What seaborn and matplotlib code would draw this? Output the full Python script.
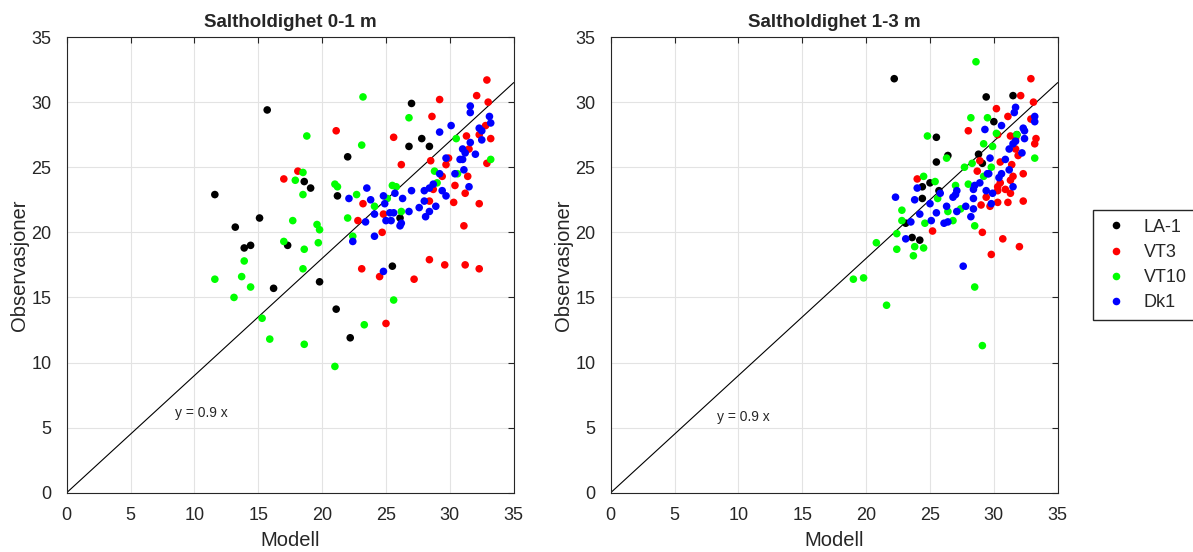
import pandas as pd
import matplotlib
matplotlib.use("Agg")
import matplotlib.pyplot as plt
import seaborn as sns

# stasjoner og farger
stasjoner = ["LA-1", "VT3", "VT10", "Dk1"]
farger = ["#000000", "#ff0000", "#00ff00", "#0000ff"]

# Saltholdighet 0-1 m  (modell, observasjon)
la1_0_mod = [11.6, 13.2, 15.1, 13.9, 14.4, 15.7, 27.0, 27.8, 26.8, 28.4, 22.0, 18.6, 19.1, 21.2, 26.1, 17.3, 16.2, 19.8, 25.5, 21.1, 22.2]
la1_0_obs = [22.9, 20.4, 21.1, 18.8, 19.0, 29.4, 29.9, 27.2, 26.6, 26.6, 25.8, 23.9, 23.4, 22.8, 21.1, 19.0, 15.7, 16.2, 17.4, 14.1, 11.9]
vt3_0_mod = [29.2, 28.6, 21.1, 25.6, 26.2, 28.5, 29.7, 29.4, 18.1, 17.0, 28.7, 28.4, 23.2, 24.8, 22.8, 24.7, 28.4, 23.1, 24.5, 27.2,
             29.6, 25.0, 32.9, 32.1, 33.0, 32.8, 32.3, 33.2, 31.3, 31.5, 29.9, 32.9, 31.4, 30.4, 31.2, 30.3, 32.3, 31.1, 31.2, 32.3]
vt3_0_obs = [30.2, 28.9, 27.8, 27.3, 25.2, 25.5, 25.2, 24.3, 24.7, 24.1, 23.3, 22.4, 22.2, 21.4, 20.9, 20.0, 17.9, 17.2, 16.6, 16.4,
             17.5, 13.0, 31.7, 30.5, 30.0, 28.2, 27.5, 27.2, 27.4, 26.4, 25.7, 25.3, 24.3, 23.6, 23.0, 22.3, 22.2, 20.5, 17.5, 17.2]
vt10_0_mod = [13.9, 23.2, 26.8, 18.8, 23.1, 28.8, 18.5, 17.9, 18.5, 21.0, 21.2, 22.7, 24.1, 25.1, 25.5, 25.8, 29.0, 26.2, 22.0, 17.7,
              19.6, 19.8, 22.4, 17.0, 19.7, 18.6, 11.6, 13.7, 14.4, 13.1, 18.5, 25.6, 15.3, 23.3, 15.9, 18.6, 21.0, 30.5, 33.2, 30.6]
vt10_0_obs = [17.8, 30.4, 28.8, 27.4, 26.7, 24.7, 24.6, 24.0, 22.9, 23.7, 23.5, 22.9, 22.0, 22.6, 23.6, 23.5, 23.8, 21.6, 21.1, 20.9,
              20.6, 20.2, 19.7, 19.3, 19.2, 18.7, 16.4, 16.6, 15.8, 15.0, 17.2, 14.8, 13.4, 12.9, 11.8, 11.4, 9.7, 27.2, 25.6, 24.5]
dk1_0_mod = [29.2, 30.1, 29.7, 29.2, 23.5, 22.1, 23.8, 24.8, 24.9, 25.7, 26.3, 27.0, 28.0, 28.4, 28.7, 29.4, 29.7, 28.0, 27.6, 28.9,
             28.4, 28.1, 26.8, 25.6, 25.3, 24.1, 25.0, 25.4, 26.2, 26.1, 23.4, 24.1, 22.4, 24.8, 31.6, 31.6, 33.1, 33.2, 32.3, 32.5,
             32.5, 31.6, 31.0, 31.2, 32.0, 30.8, 31.0, 31.1, 30.4, 31.5]
dk1_0_obs = [27.7, 28.2, 25.7, 24.5, 23.4, 22.6, 22.5, 22.8, 22.2, 23.0, 22.6, 23.2, 23.2, 23.4, 23.7, 23.2, 22.8, 22.4, 21.9, 22.0,
             21.6, 21.2, 21.6, 21.5, 21.5, 21.4, 20.9, 20.9, 20.7, 20.5, 20.8, 19.7, 19.3, 17.0, 29.7, 29.2, 28.9, 28.4, 28.0, 27.8,
             27.1, 26.9, 26.4, 26.1, 26.0, 25.6, 25.6, 24.8, 24.5, 23.5]

# Saltholdighet 1-3 m
la1_1_mod = [22.2, 29.4, 25.5, 26.4, 25.5, 28.8, 29.1, 25.0, 24.4, 25.7, 24.4, 23.1, 23.6, 24.2, 31.5, 30.0, 31.8]
la1_1_obs = [31.8, 30.4, 27.3, 25.9, 25.4, 26.0, 25.3, 23.8, 23.5, 23.2, 22.6, 20.7, 19.6, 19.4, 30.5, 28.5, 27.5]
vt3_1_mod = [28.0, 28.9, 28.7, 24.0, 29.4, 29.0, 25.2, 29.1, 29.8, 32.9, 32.1, 33.1, 30.2, 31.1, 32.9, 30.3, 31.3, 33.3, 33.2,
             31.7, 31.9, 30.5, 31.4, 31.5, 31.3, 32.3, 31.3, 32.3, 30.5, 30.3, 30.3, 30.9, 30.3, 31.1, 29.7, 30.7, 32.0, 31.7]
vt3_1_obs = [27.8, 25.5, 24.7, 24.1, 22.7, 22.1, 20.1, 20.0, 18.3, 31.8, 30.5, 30.0, 29.5, 28.9, 28.7, 27.5, 27.4, 27.2, 26.8,
             26.4, 25.9, 25.4, 25.2, 24.3, 24.0, 24.5, 23.0, 22.4, 23.8, 23.5, 23.2, 23.3, 22.3, 22.3, 22.0, 19.5, 18.9, 27.2]
vt10_1_mod = [28.6, 28.2, 29.5, 29.2, 24.8, 26.3, 27.7, 28.3, 29.2, 24.5, 25.4, 27.0, 28.0, 25.6, 22.8, 26.4, 27.4, 26.8, 24.6,
              22.8, 22.4, 23.8, 24.5, 22.4, 23.7, 20.8, 19.0, 19.8, 21.6, 28.5, 28.5, 30.2, 31.8, 33.2, 29.9, 29.8, 29.1]
vt10_1_obs = [33.1, 28.8, 28.8, 26.8, 27.4, 25.7, 25.0, 25.3, 24.3, 24.3, 23.9, 23.6, 23.7, 22.6, 21.7, 21.6, 21.8, 20.9, 20.7,
              20.9, 19.9, 18.9, 18.8, 18.7, 18.2, 19.2, 16.4, 16.5, 14.4, 15.8, 20.5, 27.6, 27.5, 25.7, 26.6, 25.0, 11.3]
dk1_1_mod = [29.3, 29.5, 24.0, 25.8, 27.1, 27.0, 26.8, 28.5, 28.9, 28.4, 29.4, 28.4, 22.3, 23.8, 25.0, 26.3, 27.8, 25.5, 27.1,
             26.1, 26.4, 25.1, 24.2, 23.5, 23.1, 27.6, 28.2, 28.4, 31.7, 31.6, 33.2, 33.2, 30.6, 32.3, 32.4, 32.4, 31.7, 31.5,
             31.2, 32.2, 29.7, 30.9, 31.2, 31.5, 30.6, 30.4, 29.6, 29.9, 29.8]
dk1_1_obs = [27.9, 24.5, 23.4, 23.0, 23.2, 22.9, 22.7, 23.6, 23.8, 23.3, 23.2, 22.6, 22.7, 22.5, 22.2, 22.0, 22.0, 21.5, 21.6,
             20.7, 20.8, 20.9, 21.4, 20.8, 19.5, 17.4, 21.2, 21.8, 29.6, 29.2, 28.9, 28.5, 28.2, 28.0, 27.8, 27.2, 27.0, 26.8,
             26.4, 26.1, 25.7, 25.6, 24.8, 23.5, 24.5, 24.2, 24.5, 23.0, 22.2]

titler = ["Saltholdighet 0-1 m", "Saltholdighet 1-3 m"]
tekst_pos = [(8.5, 6.1), (8.3, 5.8)]


def lag_tabell(mod_lister, obs_lister):
    deler = []
    for navn, m, o in zip(stasjoner, mod_lister, obs_lister):
        deler.append(pd.DataFrame({"Modell": m, "Observasjoner": o, "Stasjon": navn}))
    return pd.concat(deler, ignore_index=True)


data_0 = lag_tabell([la1_0_mod, vt3_0_mod, vt10_0_mod, dk1_0_mod], [la1_0_obs, vt3_0_obs, vt10_0_obs, dk1_0_obs])
data_1 = lag_tabell([la1_1_mod, vt3_1_mod, vt10_1_mod, dk1_1_mod], [la1_1_obs, vt3_1_obs, vt10_1_obs, dk1_1_obs])

sns.set_style("whitegrid")
plt.rcParams["font.family"] = ["Liberation Sans", "DejaVu Sans"]

fig = plt.figure(figsize=(11.93, 5.52), dpi=100)
ax1 = fig.add_axes([0.0559, 0.1074, 0.3747, 0.8255])
ax2 = fig.add_axes([0.5119, 0.1074, 0.3747, 0.8255])

for ax, df, tittel, tp in zip([ax1, ax2], [data_0, data_1], titler, tekst_pos):
    sns.scatterplot(data=df, x="Modell", y="Observasjoner", hue="Stasjon", hue_order=stasjoner,
                    palette=farger, s=30, linewidth=0, ax=ax, zorder=3)
    ax.plot([0, 35], [0, 0.9 * 35], color="black", lw=0.8, zorder=2)
    ax.text(tp[0], tp[1], "y = 0.9 x", fontsize=10, va="center", ha="left", color="#262626")
    ax.set_xlim(0, 35)
    ax.set_ylim(0, 35)
    ax.set_xticks(range(0, 36, 5))
    ax.set_yticks(range(0, 36, 5))
    ax.grid(True, color="#e3e3e3", lw=0.8)
    ax.set_facecolor("white")
    for sp in ax.spines.values():
        sp.set_color("#262626")
        sp.set_linewidth(0.8)
    ax.tick_params(direction="in", length=4, width=0.8, color="#262626", labelcolor="#262626",
                   labelsize=13, top=True, right=True)
    ax.tick_params(axis="x", pad=10)
    ax.tick_params(axis="y", pad=11)
    ax.set_xlabel("Modell", fontsize=14.5, color="#262626", labelpad=5)
    ax.set_ylabel("Observasjoner", fontsize=14.5, color="#262626", labelpad=2)
    ax.set_title(tittel, fontsize=13.5, fontweight="bold", pad=7)

handles, labels = ax2.get_legend_handles_labels()
ax1.get_legend().remove()
ax2.get_legend().remove()
fig.legend(handles, labels, loc="center left", bbox_to_anchor=(1084 / 1193, 0.52),
           frameon=True, fancybox=False, edgecolor="#262626", framealpha=1,
           fontsize=13, borderpad=0.5, handletextpad=0.8, labelspacing=0.45, handlelength=1.5)

fig.savefig("out.png", dpi=100)
